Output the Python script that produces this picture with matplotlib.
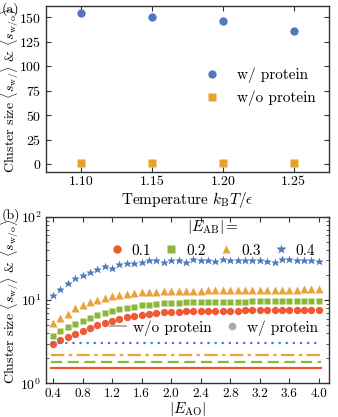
import numpy as np
import matplotlib
matplotlib.use("Agg")
import matplotlib.pyplot as plt
from matplotlib.lines import Line2D
from matplotlib.ticker import LogLocator, NullFormatter

# Global parameters
plt.rcParams['font.family'] = 'serif'
plt.rcParams['font.serif'] = ['cmr10', 'DejaVu Serif']
plt.rcParams['mathtext.fontset'] = 'cm'
plt.rcParams['axes.formatter.use_mathtext'] = True
plt.rcParams['font.size'] = 11

SPINE = '#333333'

"""Data: panel (a)"""
temps = [1.10, 1.15, 1.20, 1.25]
size_with = [154, 150, 146, 136]
size_without = [1.5, 1.5, 1.5, 1.5]

"""Data: panel (b)"""
e_ao = [0.4, 0.5, 0.6, 0.7, 0.8, 0.9, 1.0, 1.1, 1.2, 1.3, 1.4, 1.5, 1.6, 1.7, 1.8, 1.9,
        2.0, 2.1, 2.2, 2.3, 2.4, 2.5, 2.6, 2.7, 2.8, 2.9, 3.0, 3.1, 3.2, 3.3, 3.4, 3.5,
        3.6, 3.7, 3.8, 3.9, 4.0]
e_ab_labels = ['0.1', '0.2', '0.3', '0.4']
s_01 = [2.96, 3.28, 3.6, 3.92, 4.27, 4.64, 4.96, 5.3, 5.6, 5.92, 6.21, 6.44, 6.63, 6.8,
        7.0, 7.15, 7.2, 7.25, 7.3, 7.35, 7.4, 7.42, 7.45, 7.47, 7.5, 7.5, 7.52, 7.53, 7.55,
        7.55, 7.56, 7.57, 7.58, 7.58, 7.6, 7.6, 7.6]
s_02 = [3.74, 4.27, 4.69, 5.15, 5.6, 6.03, 6.56, 6.94, 7.35, 7.77, 8.14, 8.38, 8.7, 8.85,
        9.1, 9.2, 9.3, 9.35, 9.4, 9.45, 9.5, 9.52, 9.55, 9.57, 9.6, 9.6, 9.62, 9.63, 9.65,
        9.65, 9.66, 9.67, 9.68, 9.68, 9.7, 9.7, 9.7]
s_03 = [5.25, 6.15, 6.9, 8.05, 8.8, 9.5, 9.9, 10.6, 11.1, 11.5, 11.8, 12.1, 12.4, 12.6,
        12.6, 12.7, 12.8, 12.9, 12.9, 13.0, 13.0, 13.1, 13.1, 13.1, 13.2, 13.2, 13.3, 13.3,
        13.3, 13.3, 13.4, 13.4, 13.4, 13.4, 13.5, 13.5, 13.5]
s_04 = [11.4, 13.6, 16.1, 18.3, 19.8, 21.5, 23.4, 25.7, 24.3, 27.2, 27.9, 28.2, 29.0, 30.2,
        30.7, 28.6, 30.5, 30.0, 29.0, 31.0, 30.5, 30.0, 29.5, 31.0, 30.5, 30.0, 30.5, 30.0,
        30.5, 29.5, 29.0, 31.0, 31.5, 30.5, 30.0, 30.5, 29.5]
ref_x = [0.37, 4.03]
s_ref = [1.52, 1.78, 2.19, 3.04]

COLORS = ['#ee5a36', '#8cb73a', '#e9a33a', '#4e79bd']
MARKERS = ['o', 's', '^', '*']
LINESTYLES = ['-', (0, (5, 2.5)), (0, (6, 2, 1.5, 2)), (0, (1, 2.2))]

YLABEL = r'Cluster size $\langle s_{\rm w/}\rangle$ & $\langle s_{\rm w/o}\rangle$'


def style_axes(ax):
    ax.tick_params(which='both', direction='in', top=True, right=True,
                   color=SPINE, labelsize=10, pad=3)
    ax.tick_params(which='major', length=3.5, width=0.8)
    ax.tick_params(which='minor', length=2, width=0.6)
    for sp in ax.spines.values():
        sp.set_color(SPINE)
        sp.set_linewidth(1.0)


fig = plt.figure(figsize=(3.38, 4.17), dpi=100)

"""Panel (a)"""
ax1 = fig.add_axes([0.135, 0.5875, 0.839, 0.399])
ax1.plot(temps, size_with, 'o', color='#4e79bd', ms=6, mec='none', label='w/ protein')
ax1.plot(temps, size_without, 's', color='#e9a02c', ms=6, mec='none', label='w/o protein')
ax1.set_xlim(1.075, 1.275)
ax1.set_ylim(-8, 162)
ax1.set_xticks(temps)
ax1.set_xticklabels(['1.10', '1.15', '1.20', '1.25'])
ax1.set_yticks([0, 25, 50, 75, 100, 125, 150])
ax1.set_xlabel(r'Temperature $k_{\rm B}T/\epsilon$', labelpad=1)
ax1.set_ylabel(YLABEL, fontsize=10)
ax1.yaxis.set_label_coords(-0.088, 0.49)
style_axes(ax1)
ax1.legend(loc='center right', bbox_to_anchor=(1.0, 0.51), frameon=False,
           handletextpad=0.6, labelspacing=0.5, fontsize=11)
fig.text(0.004, 0.995, '(a)', ha='left', va='top', fontsize=10)

"""Panel (b)"""
ax2 = fig.add_axes([0.135, 0.0808, 0.839, 0.399])
series = [s_01, s_02, s_03, s_04]
sizes = [5.3, 5.0, 5.6, 6.3]
handles = []
for vals, ref, col, mk, ls, lab, ms in zip(series, s_ref, COLORS, MARKERS,
                                            LINESTYLES, e_ab_labels, sizes):
    h, = ax2.plot(e_ao, vals, mk, color=col, ms=ms, mec='none', label=lab)
    ax2.plot(ref_x, [ref, ref], color=col, ls=ls, lw=1.6)
    handles.append(h)
ax2.set_yscale('log')
ax2.set_xlim(0.3, 4.14)
ax2.set_ylim(1, 100)
ax2.set_xticks([0.4, 0.8, 1.2, 1.6, 2.0, 2.4, 2.8, 3.2, 3.6, 4.0])
ax2.set_xticklabels(['0.4', '0.8', '1.2', '1.6', '2.0', '2.4', '2.8', '3.2', '3.6', '4.0'])
ax2.yaxis.set_minor_locator(LogLocator(base=10, subs=np.arange(2, 10), numticks=10))
ax2.yaxis.set_minor_formatter(NullFormatter())
ax2.set_xlabel(r'$|E_{\rm AO}|$', labelpad=0)
ax2.set_ylabel(YLABEL, fontsize=10)
ax2.yaxis.set_label_coords(-0.088, 0.49)
style_axes(ax2)
ax2.tick_params(axis='x', labelsize=9.5)

leg1 = ax2.legend(handles=handles, title=r'$|E_{\rm AB}| =$', loc='upper right',
                  bbox_to_anchor=(1.0, 1.075), ncol=4, frameon=False, handlelength=0.8,
                  handletextpad=0.6, columnspacing=0.9, fontsize=11,
                  title_fontsize=11, markerscale=1.15)
ax2.add_artist(leg1)
gray = '#aaaaaa'
h_line = Line2D([], [], color=gray, lw=1.3)
h_dot = Line2D([], [], marker='o', ls='none', color=gray, ms=5.5, mec='none')
ax2.legend([h_line, h_dot], ['w/o protein', 'w/ protein'], loc='center right',
           bbox_to_anchor=(1.01, 0.333), ncol=2, frameon=False, handlelength=1.0,
           handletextpad=0.5, columnspacing=0.8, fontsize=11)
fig.text(0.004, 0.5, '(b)', ha='left', va='top', fontsize=10)

fig.savefig('out.png', dpi=100)
